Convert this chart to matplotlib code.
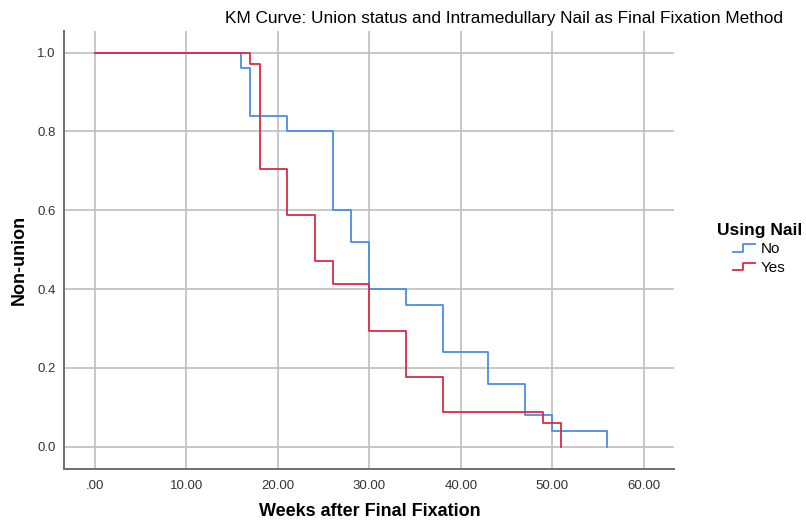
import matplotlib
matplotlib.use('Agg')
import matplotlib.pyplot as plt
from matplotlib.legend_handler import HandlerBase
from matplotlib.lines import Line2D

plt.rcParams['font.family'] = ['Liberation Sans', 'DejaVu Sans']

# Kaplan-Meier step data
weeks_no = [0, 16, 17, 21, 26, 28, 30, 34, 38, 43, 47, 50, 56]
surv_no = [1.0, 0.96, 0.84, 0.80, 0.60, 0.52, 0.40, 0.36, 0.24, 0.16, 0.08, 0.04, 0.0]
weeks_yes = [0, 17, 18, 21, 24, 26, 30, 34, 38, 49, 51]
surv_yes = [1.0, 0.971, 0.706, 0.588, 0.471, 0.412, 0.294, 0.176, 0.088, 0.059, 0.0]

x_ticks = [0, 10, 20, 30, 40, 50, 60]
x_labels = ['.00', '10.00', '20.00', '30.00', '40.00', '50.00', '60.00']
y_ticks = [0.0, 0.2, 0.4, 0.6, 0.8, 1.0]
y_labels = ['0.0', '0.2', '0.4', '0.6', '0.8', '1.0']

c_no = '#4a8fe6'
c_yes = '#d92b45'


class StepHandler(HandlerBase):
    # legend key drawn as a little step, like SPSS does
    def create_artists(self, legend, orig, xd, yd, w, h, fontsize, trans):
        xs = [xd, xd + w * 0.45, xd + w * 0.45, xd + w]
        ys = [yd + h * 0.15, yd + h * 0.15, yd + h * 0.85, yd + h * 0.85]
        ln = Line2D(xs, ys, color=orig.get_color(), lw=1.3, transform=trans)
        return [ln]


fig = plt.figure(figsize=(8.06, 5.21), dpi=100)
ax = fig.add_axes([0.0794, 0.0998, 0.7568, 0.8407])

ln_no, = ax.step(weeks_no, surv_no, where='post', color=c_no, lw=1.3, label='No')
ln_yes, = ax.step(weeks_yes, surv_yes, where='post', color=c_yes, lw=1.3, label='Yes')

ax.set_xlim(-3.39, 63.3)
ax.set_ylim(-0.0566, 1.055)
ax.set_xticks(x_ticks)
ax.set_xticklabels(x_labels)
ax.set_yticks(y_ticks)
ax.set_yticklabels(y_labels)
ax.grid(True, color='#c4c4c4', lw=1.3)
ax.set_axisbelow(True)
ax.tick_params(axis='x', length=0, labelsize=9.5, labelcolor='#333333', pad=8)
ax.tick_params(axis='y', length=0, labelsize=9.5, labelcolor='#333333', pad=6)

for s in ['top', 'right']:
    ax.spines[s].set_visible(False)
for s in ['left', 'bottom']:
    ax.spines[s].set_color('#6e6e6e')
    ax.spines[s].set_linewidth(1.4)

fig.text(370 / 806, 1 - 511 / 521, 'Weeks after Final Fixation', ha='center', va='center',
         fontsize=13, fontweight='bold')
fig.text(19 / 806, 1 - 260 / 521, 'Non-union', ha='center', va='center', rotation=90,
         fontsize=13, fontweight='bold')

fig.text(504 / 806, 1 - 18 / 521, 'KM Curve: Union status and Intramedullary Nail as Final Fixation Method',
         ha='center', va='center', fontsize=12.4)

leg = fig.legend(handles=[ln_no, ln_yes], title='Using Nail', loc='upper left',
                 bbox_to_anchor=(706 / 806, 1 - 212 / 521), frameon=False, fontsize=11,
                 handler_map={Line2D: StepHandler()}, handlelength=1.4,
                 handletextpad=0.4, labelspacing=0.3, borderpad=0.2)
leg.get_title().set_fontweight('bold')
leg.get_title().set_fontsize(12.5)

fig.savefig('out.png', dpi=100)
